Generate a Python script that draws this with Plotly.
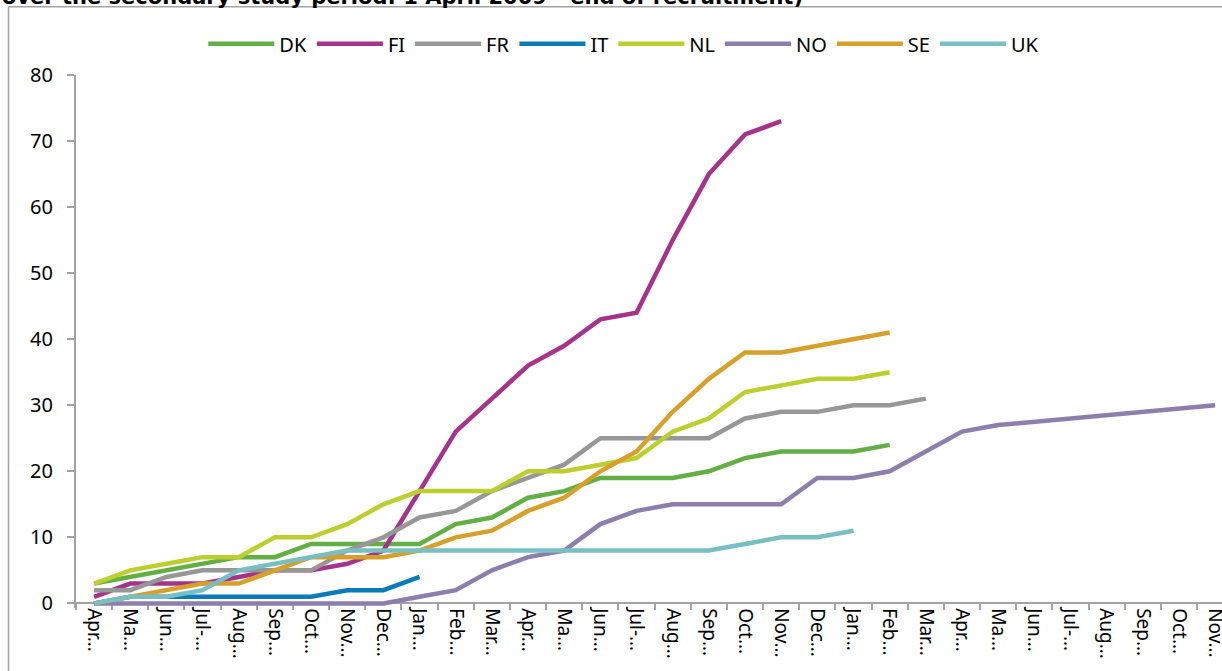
import plotly.graph_objects as go

# Monthly categories, April 2009 to November 2011
months = [
    "Apr-09", "May-09", "Jun-09", "Jul-09", "Aug-09", "Sep-09", "Oct-09", "Nov-09",
    "Dec-09", "Jan-10", "Feb-10", "Mar-10", "Apr-10", "May-10", "Jun-10", "Jul-10",
    "Aug-10", "Sep-10", "Oct-10", "Nov-10", "Dec-10", "Jan-11", "Feb-11", "Mar-11",
    "Apr-11", "May-11", "Jun-11", "Jul-11", "Aug-11", "Sep-11", "Oct-11", "Nov-11",
]
# Axis labels as they appear (truncated by the narrow category width)
tick_labels = [
    "Apr…", "Ma…", "Jun…", "Jul-…", "Aug…", "Sep…", "Oct…", "Nov…",
    "Dec…", "Jan…", "Feb…", "Mar…", "Apr…", "Ma…", "Jun…", "Jul-…",
    "Aug…", "Sep…", "Oct…", "Nov…", "Dec…", "Jan…", "Feb…", "Mar…",
    "Apr…", "Ma…", "Jun…", "Jul-…", "Aug…", "Sep…", "Oct…", "Nov…",
]

# Cumulative counts per country (None = no value for that month)
dk = [3, 4, 5, 6, 7, 7, 9, 9, 9, 9, 12, 13, 16, 17, 19, 19, 19, 20, 22, 23, 23, 23, 24]
fi = [1, 3, 3, 3, 4, 5, 5, 6, 8, 17, 26, 31, 36, 39, 43, 44, 55, 65, 71, 73]
fr = [2, 2, 4, 5, 5, 5, 5, 8, 10, 13, 14, 17, 19, 21, 25, 25, 25, 25, 28, 29, 29, 30, 30, 31]
it = [0, 1, 1, 1, 1, 1, 1, 2, 2, 4]
nl = [3, 5, 6, 7, 7, 10, 10, 12, 15, 17, 17, 17, 20, 20, 21, 22, 26, 28, 32, 33, 34, 34, 35]
no = [0, 0, 0, 0, 0, 0, 0, 0, 0, 1, 2, 5, 7, 8, 12, 14, 15, 15, 15, 15, 19, 19, 20, None,
      26, 27, None, None, None, None, None, 30]
se = [0, 1, 2, 3, 3, 5, 7, 7, 7, 8, 10, 11, 14, 16, 20, 23, 29, 34, 38, 38, 39, 40, 41]
uk = [0, 1, 1, 2, 5, 6, 7, 8, 8, 8, 8, 8, 8, 8, 8, 8, 8, 8, 9, 10, 10, 11]

series = [
    ("DK", dk, "#62B044"),
    ("FI", fi, "#A6338B"),
    ("FR", fr, "#979797"),
    ("IT", it, "#0A7AB8"),
    ("NL", nl, "#BDCF2F"),
    ("NO", no, "#8D7FAD"),
    ("SE", se, "#D7A02A"),
    ("UK", uk, "#77BFC3"),
]

FONT = "Noto Sans"
AXIS_GREY = "#a3a3a3"
Y_LOW = -0.7  # small room under zero so lines at 0 are not clipped

fig = go.Figure()
for name, vals, color in series:
    fig.add_trace(go.Scatter(
        x=list(range(len(vals))),
        y=vals,
        name=name,
        mode="lines",
        connectgaps=True,
        line=dict(color=color, width=4.5),
    ))

fig.update_layout(
    width=1222,
    height=671,
    margin=dict(l=76, r=0, t=75, b=63),
    paper_bgcolor="white",
    plot_bgcolor="white",
    font=dict(family=FONT, size=20, color="black"),
    showlegend=True,
    legend=dict(
        orientation="h",
        x=0.478, xanchor="center",
        y=1.0587, yanchor="middle",
        font=dict(family=FONT, size=20),
        itemwidth=66,
        tracegroupgap=0,
    ),
    xaxis=dict(
        range=[-0.5, 31.19],
        tickmode="array",
        tickvals=list(range(len(months))),
        ticktext=tick_labels,
        tickangle=90,
        ticks="",
        ticklabeloverflow="allow",
        automargin=False,
        showline=True,
        linecolor=AXIS_GREY,
        linewidth=2,
        showgrid=False,
        zeroline=False,
        anchor="free",
        position=-Y_LOW / (80 - Y_LOW),
        layer="below traces",
        minor=dict(ticks="outside", ticklen=6, tickcolor=AXIS_GREY, tickwidth=2,
                   tickmode="linear", tick0=-0.5, dtick=1),
        tickfont=dict(family=FONT, size=19),
    ),
    yaxis=dict(
        range=[Y_LOW, 80],
        tickmode="linear",
        tick0=0,
        dtick=10,
        ticks="outside",
        ticklen=7,
        tickcolor=AXIS_GREY,
        tickwidth=2,
        showline=True,
        linecolor=AXIS_GREY,
        linewidth=2,
        showgrid=False,
        zeroline=False,
        automargin=False,
        layer="below traces",
        ticklabelstandoff=10,
        tickfont=dict(family=FONT, size=20),
    ),
    annotations=[dict(
        text="over the secondary study period: 1 April 2009 - end of recruitment)",
        xref="paper", yref="paper",
        x=(805 - 76) / 1146, xanchor="right",
        y=1 + (75 - 12) / 528, yanchor="bottom",
        showarrow=False,
        font=dict(family="DejaVu Sans", size=21, color="black", weight="bold"),
    )],
    shapes=[
        # chart frame, left and top edges
        dict(type="line", xref="paper", yref="paper",
             x0=(8.5 - 76) / 1146, x1=1.05,
             y0=1 + (75 - 7.5) / 528, y1=1 + (75 - 7.5) / 528,
             line=dict(color=AXIS_GREY, width=1.5)),
        dict(type="line", xref="paper", yref="paper",
             x0=(8.5 - 76) / 1146, x1=(8.5 - 76) / 1146,
             y0=-0.2, y1=1 + (75 - 7.5) / 528,
             line=dict(color=AXIS_GREY, width=1.5)),
    ],
)

fig.write_html("out.html")
